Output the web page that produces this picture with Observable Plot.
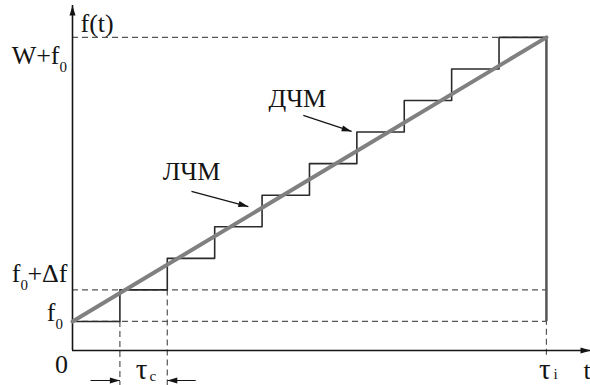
<!DOCTYPE html>
<html>
<head>
<meta charset="utf-8">
<script src="https://cdn.jsdelivr.net/npm/d3@7"></script>
<script src="https://cdn.jsdelivr.net/npm/@observablehq/plot@0.6"></script>
<style>
  html, body { margin: 0; padding: 0; background: #fff; }
  svg text { font-family: "Liberation Serif", "Times New Roman", "DejaVu Serif", serif; }
</style>
</head>
<body>
<div id="chart"></div>
<script>
// Time in units of the step duration τc, frequency in units of the step Δf.
const tauI = 10;       // pulse duration τи
const f0 = 0.92;       // carrier (start) frequency
const deltaF = 1;      // frequency step Δf
const W = 9;           // total deviation
const tMax = 10.93;    // end of the t axis
const fMax = 10.93;    // end of the f axis

// ДЧМ: start time of each step and the frequency held during it
const stepTimes  = [0, 1, 2, 3, 4, 5, 6, 7, 8, 9, 10];
const stepLevels = [0.92, 1.92, 2.92, 3.92, 4.92, 5.92, 6.92, 7.92, 8.92, 9.92, 9.92];

// ЛЧМ: linear sweep from f0 to W+f0
const chirpTimes  = [0, 10];
const chirpLevels = [0.92, 9.92];

// Callouts: label, arrow tail, arrow tip
const calloutLabels = ["ЛЧМ", "ДЧМ"];
const calloutFrom   = [[2.51, 5.04], [4.87, 7.45]];
const calloutTo     = [[3.71, 4.56], [5.89, 6.94]];

// τc dimension line: outer ends of the two arrows, their tips, height
const dimOuter = [0.38, 2.6];
const dimTips  = [1, 2];
const dimLevel = -0.95;

const width = 590, height = 385;
const margin = {left: 72, right: 0, top: 5, bottom: 35};
const kx = (width - margin.left - margin.right) / tMax;
const ky = (height - margin.top - margin.bottom) / fMax;

const steps = stepTimes.map((t, i) => ({t, f: stepLevels[i]}));
const chirp = chirpTimes.map((t, i) => ({t, f: chirpLevels[i]}));
const callouts = calloutLabels.map((label, i) => ({
  label,
  x1: calloutFrom[i][0], y1: calloutFrom[i][1],
  x2: calloutTo[i][0],   y2: calloutTo[i][1]
}));

// Filled arrowhead with its tip at the origin, pointing up before rotation
const arrowHead = {
  draw(ctx, size) {
    const r = Math.sqrt(size / Math.PI);
    const L = 2.5 * r, h = 0.75 * r;
    ctx.moveTo(0, 0);
    ctx.lineTo(h, L);
    ctx.lineTo(-h, L);
    ctx.closePath();
  }
};
const screenAngle = (dx, dy) => Math.atan2(-dy * ky, dx * kx) * 180 / Math.PI;
const heads = [
  ...callouts.map(c => ({x: c.x2, y: c.y2, rotate: screenAngle(c.x2 - c.x1, c.y2 - c.y1) + 90})),
  {x: dimTips[0], y: dimLevel, rotate: 90},
  {x: dimTips[1], y: dimLevel, rotate: -90},
  {x: 0, y: fMax, rotate: 0},
  {x: tMax, y: 0, rotate: 90}
];

const serif = "Liberation Serif, Times New Roman, DejaVu Serif, serif";
const ink = "#141414";
const dash = {stroke: "#555", strokeWidth: 1.2, strokeDasharray: "6,4"};
const big = 26, sub = 15;

function label(text, x, y, dx, dy, size, anchor = "middle") {
  return Plot.text([text], {
    x, y, dx, dy, text: d => d,
    textAnchor: anchor, lineAnchor: "bottom",
    fontSize: size, fontFamily: serif, fill: ink
  });
}

const plot = Plot.plot({
  width, height,
  marginLeft: margin.left, marginRight: margin.right,
  marginTop: margin.top, marginBottom: margin.bottom,
  x: {domain: [0, tMax], axis: null},
  y: {domain: [0, fMax], axis: null},
  style: {fontFamily: serif, background: "#fff"},
  marks: [
    // reference levels and time marks
    Plot.ruleY([f0, f0 + deltaF, W + f0], {x1: 0, x2: tauI, ...dash}),
    Plot.ruleX([{t: 1, top: f0}, {t: 2, top: f0 + deltaF}], {x: "t", y1: "top", y2: -1.15, ...dash}),
    Plot.ruleX([tauI], {y1: -0.15, y2: f0, ...dash}),
    // axes
    Plot.ruleY([0], {x1: 0, x2: tMax, stroke: ink, strokeWidth: 1.6}),
    Plot.ruleX([0], {y1: 0, y2: fMax, stroke: ink, strokeWidth: 1.6}),
    // ДЧМ staircase
    Plot.line(steps, {x: "t", y: "f", curve: "step-after", stroke: "#2b2b2b", strokeWidth: 1.6}),
    Plot.ruleX([tauI], {y1: f0, y2: W + f0, stroke: "#555", strokeWidth: 2.5}),
    // ЛЧМ line
    Plot.line(chirp, {x: "t", y: "f", stroke: "#808080", strokeWidth: 4}),
    // callout and dimension arrows
    Plot.link(callouts, {x1: "x1", y1: "y1", x2: "x2", y2: "y2", stroke: ink, strokeWidth: 1.2}),
    Plot.link(dimOuter.map((x1, i) => ({x1, x2: dimTips[i]})),
      {x1: "x1", x2: "x2", y1: dimLevel, y2: dimLevel, stroke: ink, strokeWidth: 1}),
    Plot.dot(heads, {x: "x", y: "y", rotate: "rotate", symbol: arrowHead, r: 4, fill: ink, stroke: "none"}),
    Plot.text(callouts.slice(0, 1), {x: "x1", y: "y1", dx: 0, dy: -11, text: "label",
      lineAnchor: "bottom", fontSize: big, fontFamily: serif, fill: ink}),
    Plot.text(callouts.slice(1), {x: "x1", y: "y1", dx: -6, dy: -8, text: "label",
      lineAnchor: "bottom", fontSize: big, fontFamily: serif, fill: ink}),
    // axis labels
    label("f(t)", 0, fMax, 8, 26, big, "start"),
    label("W+f", 0, W + f0, -13, 27, big, "end"),
    label("0", 0, W + f0, -13, 35, sub, "start"),
    label("+Δf", 0, f0 + deltaF, -5, -8, big, "end"),
    label("f", 0, f0 + deltaF, -52, -8, big, "end"),
    label("0", 0, f0 + deltaF, -52, 0, sub, "start"),
    label("f", 0, f0, -17, 0, big, "end"),
    label("0", 0, f0, -17, 8, sub, "start"),
    label("0", 0, 0, -11, 22, big),
    label("τ", 1.5, 0, -2, 28, 29),
    label("c", 1.5, 0, 6, 30, sub, "start"),
    label("τ", tauI, 0, -1.5, 28, 29),
    label("i", tauI, 0, 7, 28, sub, "start"),
    label("t", tMax, 0, -7, 28, big, "start")
  ]
});

document.getElementById("chart").appendChild(plot);
</script>
</body>
</html>
